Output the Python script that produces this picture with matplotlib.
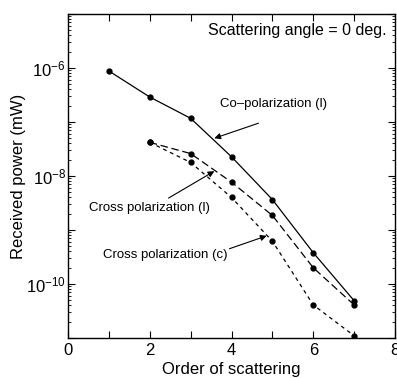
import math
import matplotlib
matplotlib.use("Agg")
import matplotlib.pyplot as plt
from matplotlib.ticker import LogLocator, FixedLocator, NullFormatter, FuncFormatter

plt.rcParams['font.family'] = ['Liberation Sans', 'DejaVu Sans']
plt.rcParams['mathtext.fontset'] = 'custom'
plt.rcParams['mathtext.rm'] = 'Liberation Sans'
plt.rcParams['mathtext.it'] = 'Liberation Sans'

order = [1, 2, 3, 4, 5, 6, 7]
co_pol_l = [8.8e-7, 2.9e-7, 1.17e-7, 2.27e-8, 3.66e-9, 3.8e-10, 4.9e-11]
order_cross = [2, 3, 4, 5, 6, 7]
cross_pol_l = [4.2e-8, 2.6e-8, 7.7e-9, 1.86e-9, 2.0e-10, 4.1e-11]
cross_pol_c = [4.2e-8, 1.78e-8, 4.0e-9, 6.2e-10, 4.1e-11, 1.1e-11]

fig = plt.figure(figsize=(3.97, 3.78), dpi=100)
ax = fig.add_axes([0.1713, 0.1058, 0.8237, 0.8572])

ax.plot(order, co_pol_l, '-', color='black', lw=0.9, marker='o', ms=3.5)
ax.plot(order_cross, cross_pol_l, color='black', lw=0.9, marker='o', ms=3.5,
        dashes=(6, 3))
ax.plot(order_cross, cross_pol_c, color='black', lw=0.9, marker='o', ms=3.5,
        dashes=(3, 3))

ax.set_yscale('log')
ax.set_xlim(0, 8)
ax.set_ylim(1e-11, 1e-5)

ax.xaxis.set_major_locator(FixedLocator([0, 2, 4, 6, 8]))
ax.xaxis.set_minor_locator(FixedLocator([1, 3, 5, 7]))
ax.yaxis.set_major_locator(FixedLocator([1e-11, 1e-10, 1e-9, 1e-8, 1e-7, 1e-6, 1e-5]))
ax.yaxis.set_minor_locator(LogLocator(base=10, subs=range(2, 10), numticks=20))
ax.yaxis.set_minor_formatter(NullFormatter())

def yfmt(v, pos):
    e = int(round(math.log10(v)))
    if e in (-6, -8, -10):
        return r'$10^{%d}$' % e
    return ''
ax.yaxis.set_major_formatter(FuncFormatter(yfmt))

ax.tick_params(which='both', direction='in', top=True, right=True, labelsize=12)
ax.tick_params(which='major', length=5, width=0.8)
ax.tick_params(which='minor', length=2.5, width=0.6)
ax.tick_params(axis='x', which='minor', length=5, width=0.8)
ax.tick_params(axis='y', which='major', pad=1.5)
for s in ax.spines.values():
    s.set_linewidth(1.0)

ax.set_xlabel('Order of scattering', fontsize=12)
ax.set_ylabel('Received power (mW)', fontsize=12)
ax.xaxis.set_label_coords(0.5, -0.074)
ax.yaxis.set_label_coords(-0.127, 0.5)

ax.text(0.975, 0.95, 'Scattering angle = 0 deg.', transform=ax.transAxes,
        ha='right', va='center', fontsize=11.5)

ap = dict(arrowstyle='-|>', color='black', lw=0.8, mutation_scale=9,
          shrinkA=0, shrinkB=0)
ax.text(5.02, 2.2e-7, 'Co\u2013polarization (l)', fontsize=9.5, ha='center', va='center')
ax.annotate('', xy=(3.58, 5.0e-8), xytext=(4.66, 9.5e-8), arrowprops=ap)
ax.text(1.98, 2.57e-9, 'Cross polarization (l)', fontsize=9.5, ha='center', va='center')
ax.annotate('', xy=(3.58, 1.23e-8), xytext=(2.46, 3.9e-9), arrowprops=ap)
ax.text(2.37, 3.5e-10, 'Cross polarization (c)', fontsize=9.5, ha='center', va='center')
ax.annotate('', xy=(4.86, 7.8e-10), xytext=(3.95, 4.5e-10), arrowprops=ap)

fig.savefig('out.png', dpi=100)
